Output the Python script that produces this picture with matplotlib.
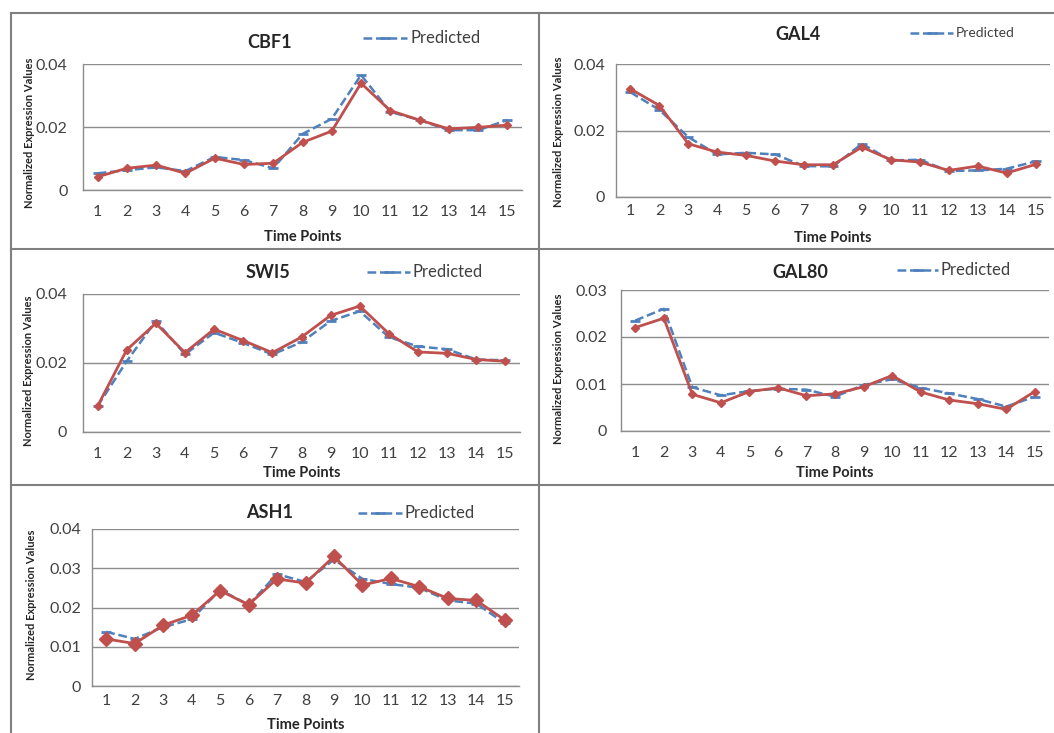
import numpy as np
import matplotlib.pyplot as plt
from matplotlib.lines import Line2D

plt.rcParams["font.family"] = ["Lato", "DejaVu Sans"]

W, H = 1054, 733
time_points = list(range(1, 16))

# observed (red) and predicted (blue dashed) expression values
cbf1_obs = [0.0042, 0.0069, 0.0079, 0.0053, 0.0101, 0.0081, 0.0085, 0.0151, 0.0187,
            0.0339, 0.0252, 0.0222, 0.0194, 0.0199, 0.0206]
cbf1_pred = [0.0053, 0.0063, 0.0072, 0.0060, 0.0105, 0.0095, 0.0069, 0.0178, 0.0226,
             0.0365, 0.0248, 0.0222, 0.0190, 0.0190, 0.0222]

gal4_obs = [0.0325, 0.0275, 0.0160, 0.0135, 0.0125, 0.0108, 0.0097, 0.0097, 0.0150,
            0.0112, 0.0105, 0.0080, 0.0093, 0.0072, 0.0098]
gal4_pred = [0.0315, 0.0262, 0.0180, 0.0128, 0.0133, 0.0128, 0.0093, 0.0092, 0.0160,
             0.0110, 0.0112, 0.0078, 0.0080, 0.0085, 0.0107]

swi5_obs = [0.0075, 0.0238, 0.0315, 0.0230, 0.0298, 0.0265, 0.0230, 0.0275, 0.0338,
            0.0365, 0.0285, 0.0232, 0.0228, 0.0210, 0.0205]
swi5_pred = [0.0075, 0.0205, 0.0322, 0.0225, 0.0288, 0.0258, 0.0225, 0.0260, 0.0322,
             0.0350, 0.0275, 0.0248, 0.0240, 0.0210, 0.0208]

gal80_obs = [0.0220, 0.0240, 0.0078, 0.0060, 0.0084, 0.0092, 0.0075, 0.0079, 0.0094,
             0.0118, 0.0083, 0.0066, 0.0058, 0.0046, 0.0084]
gal80_pred = [0.0235, 0.0260, 0.0093, 0.0076, 0.0085, 0.0090, 0.0088, 0.0073, 0.0098,
              0.0110, 0.0092, 0.0080, 0.0068, 0.0052, 0.0073]

ash1_obs = [0.0120, 0.0108, 0.0155, 0.0180, 0.0243, 0.0207, 0.0273, 0.0262, 0.0330,
            0.0257, 0.0274, 0.0253, 0.0223, 0.0218, 0.0168]
ash1_pred = [0.0138, 0.0120, 0.0150, 0.0170, 0.0245, 0.0207, 0.0285, 0.0265, 0.0322,
             0.0273, 0.0260, 0.0250, 0.0218, 0.0210, 0.0160]

RED = "#C0504D"
BLUE = "#4F81BD"
GRID = "#8C8C8C"
TXT = "#262626"


def fx(x):
    return x / W


def fy(y):
    return 1 - y / H


fig = plt.figure(figsize=(W / 100, H / 100), dpi=100)

# name, obs, pred, ymax, ystep, box (l, t, r, b), title (x, y), legend (x0, x1, y, size),
# xtick pad, ytick pad, xlabel y, ylabel (x, y), red marker size
panels = [
    ("CBF1", cbf1_obs, cbf1_pred, 0.04, 0.02, (83, 64, 522, 190), (270, 42),
     (363, 407, 38, 12), 11, 11, 237, (30, 133), 4.5),
    ("GAL4", gal4_obs, gal4_pred, 0.04, 0.02, (616, 64, 1050, 197), (798, 35),
     (910, 953, 33, 10), 5, 8, 238, (558, 132), 4.5),
    ("SWI5", swi5_obs, swi5_pred, 0.04, 0.02, (83, 294, 520, 432), (268, 272),
     (367, 410, 272, 12), 10.5, 11.5, 473, (28, 371), 4.5),
    ("GAL80", gal80_obs, gal80_pred, 0.03, 0.01, (621, 290, 1049, 431), (800, 272),
     (897, 938, 270, 12), 11, 10, 473, (558, 369), 4.5),
    ("ASH1", ash1_obs, ash1_pred, 0.04, 0.01, (92, 529, 519, 686), (270, 513),
     (358, 402, 513, 12), 5.5, 8, 725, (32, 605), 7),
]

for (name, obs, pred, ymax, ystep, box, tpos, leg, xpad, ypad, xly, ylpos, ms) in panels:
    l, t, r, b = box
    ax = fig.add_axes([fx(l), fy(b), (r - l) / W, (b - t) / H])
    ax.plot(time_points, pred, color=BLUE, lw=1.8, ls=(0, (3.5, 1.5)),
            marker="_", ms=7, mew=2, zorder=3)
    ax.plot(time_points, obs, color=RED, lw=2, marker="D", ms=ms, zorder=4)
    ax.set_xlim(0.5, 15.5)
    ax.set_ylim(0, ymax)
    yt = np.arange(0, ymax + 1e-9, ystep)
    ax.set_yticks(yt)
    ax.set_yticklabels(["0" if v == 0 else f"{v:.2f}" for v in yt])
    ax.set_xticks(time_points)
    ax.set_xticklabels([str(v) for v in time_points])
    ax.tick_params(axis="x", length=0, pad=xpad, labelsize=11.5, labelcolor="#404040")
    ax.tick_params(axis="y", length=0, pad=ypad, labelsize=11.5, labelcolor="#404040")
    ax.grid(axis="y", color=GRID, lw=1)
    ax.set_axisbelow(True)
    for s in ["top", "right"]:
        ax.spines[s].set_visible(False)
    for s in ["left", "bottom"]:
        ax.spines[s].set_color(GRID)
        ax.spines[s].set_linewidth(1)
    ax.set_facecolor("none")

    fig.text(fx(tpos[0]), fy(tpos[1]), name, ha="center", va="center",
             fontsize=13, fontweight="bold", color=TXT)
    fig.text(fx((l + r) / 2), fy(xly), "Time Points", ha="center", va="center",
             fontsize=10.5, fontweight="bold", color=TXT)
    fig.text(fx(ylpos[0]), fy(ylpos[1]), "Normalized Expression Values", rotation=90,
             ha="center", va="center", fontsize=8, fontweight="bold", color=TXT)

    x0, x1, ly, lsize = leg
    fig.add_artist(Line2D([fx(x0), fx(x1)], [fy(ly), fy(ly)], transform=fig.transFigure,
                          color=BLUE, lw=1.8, ls=(0, (3.5, 1.5))))
    fig.add_artist(Line2D([fx((x0 + x1) / 2)], [fy(ly)], transform=fig.transFigure,
                          color=BLUE, marker="_", ms=7, mew=2, ls="none"))
    fig.text(fx(x1 + 3), fy(ly), "Predicted", ha="left", va="center",
             fontsize=lsize, color="#404040")

# table borders around the panels
BORDER = "#7F7F7F"
for (xa, xb, ya, yb) in [(11, W, 13, 13), (11, W, 249, 249), (11, W, 485, 485),
                         (11, 11, 13, H), (539, 539, 13, H)]:
    fig.add_artist(Line2D([fx(xa), fx(xb)], [fy(ya), fy(yb)], transform=fig.transFigure,
                          color=BORDER, lw=1.5))

fig.savefig("out.png", dpi=100)
